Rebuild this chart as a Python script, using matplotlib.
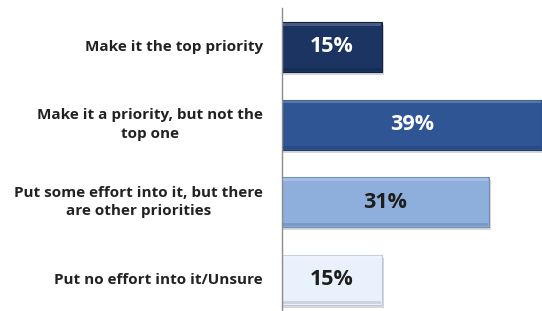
import matplotlib.pyplot as plt
import numpy as np

categories = ['Make it the top priority',
              'Make it a priority, but not the\ntop one',
              'Put some effort into it, but there\nare other priorities',
              'Put no effort into it/Unsure']
values = [15, 39, 31, 15]
bar_colors = ['#1b3461', '#2f5594', '#8eafdc', '#e9f2fc']
edge_colors = ['#10223f', '#20406f', '#6f8fbd', '#b9c8da']
text_colors = ['white', 'white', '#1e1e1e', '#1e1e1e']

fig = plt.figure(figsize=(5.42, 3.11), dpi=100, facecolor='white')
ax = fig.add_axes([282 / 542, 0, 260 / 542, (311 - 8) / 311])

y = np.arange(len(values))
h = 0.645

# soft drop shadow
ax.barh(y + 0.04, np.array(values) + 0.35, height=h, color='#bdbdbd',
        alpha=0.6, zorder=1)
ax.barh(y, values, height=h, color=bar_colors,
        edgecolor=edge_colors, linewidth=0.8, zorder=2)

# bevel: light band at top, darker band at bottom
for yi, v in zip(y, values):
    ax.barh(yi - h / 2 + 0.03, v - 0.3, left=0.15, height=0.04,
            color='white', alpha=0.2, zorder=3, linewidth=0)
    ax.barh(yi + h / 2 - 0.03, v - 0.3, left=0.15, height=0.04,
            color='black', alpha=0.12, zorder=3, linewidth=0)

for yi, v, tc in zip(y, values, text_colors):
    ax.text(v / 2, yi, f'{v}%', ha='center', va='center', color=tc,
            fontsize=15.5, fontweight='bold', family='Open Sans', zorder=4)

for yi, lab in zip(y, categories):
    ax.text(-19 / 6.67, yi, lab, ha='right', va='center',
            multialignment='center', fontsize=11, fontweight='bold',
            family='Open Sans', color='#222222', linespacing=1.45)

ax.set_xlim(0, 39)
ax.set_ylim(3.406, -0.503)
ax.set_xticks([])
ax.set_yticks([])
for s in ['top', 'right', 'bottom']:
    ax.spines[s].set_visible(False)
ax.spines['left'].set_color('#8c8c8c')
ax.spines['left'].set_linewidth(1)

fig.savefig('out.png', dpi=100, facecolor='white')
